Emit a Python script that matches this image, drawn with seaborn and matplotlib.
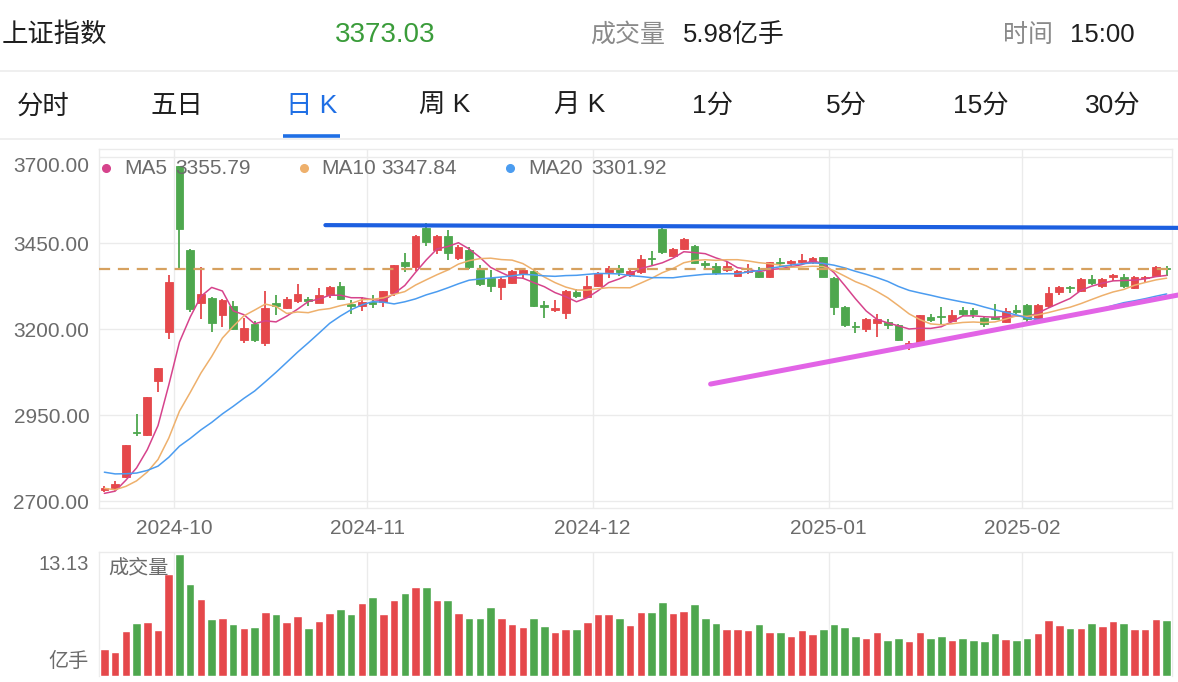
import numpy as np
import pandas as pd
import matplotlib
matplotlib.use("Agg")
import matplotlib.pyplot as plt
import seaborn as sns

# ---------------- data ----------------
dates = [
    "2024-09-20", "2024-09-23", "2024-09-24", "2024-09-25", "2024-09-26", "2024-09-27", "2024-09-30",
    "2024-10-08", "2024-10-09", "2024-10-10", "2024-10-11", "2024-10-14", "2024-10-15", "2024-10-16",
    "2024-10-17", "2024-10-18", "2024-10-21", "2024-10-22", "2024-10-23", "2024-10-24", "2024-10-25",
    "2024-10-28", "2024-10-29", "2024-10-30", "2024-10-31",
    "2024-11-01", "2024-11-04", "2024-11-05", "2024-11-06", "2024-11-07", "2024-11-08", "2024-11-11",
    "2024-11-12", "2024-11-13", "2024-11-14", "2024-11-15", "2024-11-18", "2024-11-19", "2024-11-20",
    "2024-11-21", "2024-11-22", "2024-11-25", "2024-11-26", "2024-11-27", "2024-11-28", "2024-11-29",
    "2024-12-02", "2024-12-03", "2024-12-04", "2024-12-05", "2024-12-06", "2024-12-09", "2024-12-10",
    "2024-12-11", "2024-12-12", "2024-12-13", "2024-12-16", "2024-12-17", "2024-12-18", "2024-12-19",
    "2024-12-20", "2024-12-23", "2024-12-24", "2024-12-25", "2024-12-26", "2024-12-27", "2024-12-30",
    "2024-12-31",
    "2025-01-02", "2025-01-03", "2025-01-06", "2025-01-07", "2025-01-08", "2025-01-09", "2025-01-10",
    "2025-01-13", "2025-01-14", "2025-01-15", "2025-01-16", "2025-01-17", "2025-01-20", "2025-01-21",
    "2025-01-22", "2025-01-23", "2025-01-24", "2025-01-27",
    "2025-02-05", "2025-02-06", "2025-02-07", "2025-02-10", "2025-02-11", "2025-02-12", "2025-02-13",
    "2025-02-14", "2025-02-17", "2025-02-18", "2025-02-19", "2025-02-20", "2025-02-21", "2025-02-24",
]

open_ = [
    2731, 2737, 2770, 2901, 2893, 3049, 3192,
    3674, 3430, 3275, 3289, 3240, 3266, 3167, 3215, 3160, 3275, 3261, 3282, 3287, 3277, 3298, 3325, 3273, 3267,
    3278, 3278, 3305, 3396, 3380, 3495, 3431, 3470, 3405, 3430, 3372, 3347, 3321, 3335, 3360, 3368, 3271, 3256,
    3248, 3307, 3294,
    3325, 3365, 3376, 3356, 3366, 3405, 3490, 3413, 3432, 3440, 3392, 3382, 3371, 3353, 3366, 3366, 3352, 3395,
    3391, 3396, 3396, 3408,
    3347, 3265, 3210, 3200, 3218, 3220, 3211, 3147, 3158, 3236, 3239, 3224, 3254, 3254, 3231, 3235, 3221, 3256,
    3270, 3229, 3268, 3308, 3322, 3310, 3344, 3326, 3352, 3350, 3318, 3348, 3353, 3376,
]
high = [
    2744, 2757, 2864, 2952, 3001, 3088, 3358,
    3674, 3434, 3379, 3293, 3288, 3280, 3231, 3222, 3310, 3298, 3293, 3330, 3292, 3318, 3324, 3336, 3283, 3292,
    3300, 3310, 3387, 3420, 3472, 3507, 3472, 3487, 3443, 3438, 3385, 3371, 3350, 3373, 3373, 3373, 3280, 3283,
    3312, 3315, 3354,
    3367, 3383, 3385, 3372, 3416, 3426, 3494, 3436, 3464, 3444, 3397, 3392, 3395, 3372, 3388, 3380, 3396, 3405,
    3400, 3417, 3410, 3410,
    3351, 3268, 3220, 3232, 3245, 3228, 3215, 3165, 3242, 3245, 3264, 3254, 3263, 3260, 3235, 3274, 3260, 3270,
    3273, 3272, 3322, 3325, 3325, 3347, 3356, 3348, 3360, 3360, 3353, 3355, 3382, 3383,
]
low = [
    2727, 2730, 2767, 2889, 2889, 3017, 3170,
    3374, 3250, 3228, 3190, 3205, 3197, 3160, 3162, 3152, 3240, 3257, 3277, 3266, 3275, 3290, 3283, 3245, 3251,
    3260, 3263, 3296, 3367, 3370, 3440, 3417, 3400, 3400, 3374, 3326, 3307, 3283, 3330, 3345, 3264, 3232, 3250,
    3228, 3290, 3290,
    3323, 3348, 3354, 3350, 3360, 3385, 3417, 3408, 3430, 3388, 3376, 3358, 3366, 3350, 3360, 3348, 3348, 3380,
    3380, 3392, 3390, 3350,
    3240, 3205, 3187, 3191, 3176, 3200, 3166, 3140, 3156, 3220, 3216, 3220, 3238, 3232, 3205, 3225, 3218, 3245,
    3220, 3220, 3262, 3298, 3306, 3307, 3328, 3320, 3340, 3318, 3315, 3337, 3350, 3354,
]
close = [
    2736.81, 2748.92, 2863.13, 2896.31, 3000.95, 3087.53, 3336.50,
    3489.78, 3258.86, 3301.93, 3217.74, 3284.32, 3201.29, 3202.95, 3169.38, 3261.56, 3268.11, 3285.87, 3302.80,
    3280.26, 3299.70, 3322.20, 3286.41, 3266.24, 3279.82,
    3272.01, 3310.21, 3386.99, 3383.81, 3470.66, 3452.30, 3470.07, 3421.97, 3439.28, 3379.84, 3330.73, 3323.85,
    3346.01, 3367.99, 3370.40, 3267.19, 3263.76, 3259.76, 3309.78, 3295.70, 3326.46,
    3363.98, 3378.81, 3364.65, 3368.86, 3404.08, 3402.53, 3422.66, 3432.49, 3461.50, 3391.88, 3386.33, 3361.49,
    3382.21, 3370.03, 3368.07, 3351.26, 3393.53, 3393.35, 3398.08, 3400.14, 3407.33, 3351.76,
    3262.56, 3211.43, 3206.92, 3229.64, 3230.17, 3211.39, 3168.52, 3160.76, 3240.94, 3227.12, 3236.03, 3241.82,
    3244.38, 3242.62, 3213.62, 3230.16, 3252.63, 3250.60,
    3229.49, 3270.66, 3303.67, 3322.17, 3318.06, 3346.39, 3332.48, 3346.72, 3355.83, 3324.49, 3351.54, 3350.78,
    3379.11, 3373.03,
]
volume = [  # 亿手
    2.92, 2.63, 4.81, 5.73, 5.80, 4.96, 11.01,
    13.13, 9.92, 8.32, 6.09, 6.27, 5.65, 5.18, 5.29, 6.93, 6.67, 5.76, 6.49, 5.18, 5.95, 6.75, 7.22, 6.67, 7.84,
    8.46, 6.64, 8.17, 8.94, 9.56, 9.59, 8.13, 8.13, 6.75, 6.27, 6.27, 7.40, 6.27, 5.65, 5.29, 6.27, 5.40, 4.74,
    5.11, 5.11, 5.84,
    6.67, 6.67, 6.20, 5.47, 6.93, 6.93, 7.95, 6.82, 7.00, 7.77, 6.27, 5.73, 5.11, 5.11, 4.92, 5.58, 4.74, 4.74,
    4.27, 5.00, 4.56, 5.03,
    5.65, 5.22, 4.34, 4.08, 4.74, 3.87, 4.08, 3.76, 4.74, 4.08, 4.34, 3.87, 4.08, 3.87, 3.72, 4.63, 4.01, 3.90,
    4.12, 4.67, 6.02, 5.51, 5.14, 5.14, 5.73, 5.36, 5.91, 5.69, 5.03, 5.03, 6.09, 5.98,
]
# closes of the 19 sessions before the first shown day (needed for the moving averages)
prior_close = [2848.77, 2854.37, 2855.52, 2848.74, 2837.43, 2823.11, 2842.21, 2811.04, 2802.98, 2784.28,
               2788.31, 2765.81, 2736.49, 2744.19, 2721.80, 2717.12, 2704.09, 2717.28, 2736.02]

ma_periods = [5, 10, 20]
y_ticks = [2700, 2950, 3200, 3450, 3700]
resistance_x = [20.6, 100.1]
resistance_y = [3502, 3494]
support_x = [56.5, 100.1]
support_y = [3040, 3299]
tabs = ["分时", "五日", "日 K", "周 K", "月 K", "1分", "5分", "15分", "30分"]

# ---------------- derived ----------------
n = len(dates)
idx = np.arange(n)
df = pd.DataFrame({"date": pd.to_datetime(dates), "open": open_, "high": high,
                   "low": low, "close": close, "volume": volume, "i": idx})
full_close = pd.Series(prior_close + close)
for p in ma_periods:
    df[f"MA{p}"] = full_close.rolling(p).mean().values[len(prior_close):]
df["dir"] = np.where(df["close"] >= df["open"], "up", "down")

RED = "#e5484b"
GREEN = "#4ea74e"
col = {"up": RED, "down": GREEN}
ma_cols = {5: "#d6438c", 10: "#eeb06c", 20: "#4b9cf0"}

# month boundaries
month_starts = [i for i in range(1, n) if df["date"][i].month != df["date"][i - 1].month]
month_labels = [df["date"][i].strftime("%Y-%m") for i in month_starts]
month_pos = [i - 0.5 for i in month_starts]

# ---------------- figure ----------------
sns.set_theme(style="white")
plt.rcParams["font.family"] = ["Liberation Sans", "Noto Sans CJK SC", "DejaVu Sans"]

W, H = 1178, 682
fig = plt.figure(figsize=(W / 100, H / 100), dpi=100)
fig.patch.set_facecolor("white")


def fx(x):
    return x / W


def fy(y):
    return 1 - y / H


GRID = "#ebebeb"
TICK = "#6b6b6b"

# header
fig.text(fx(2), fy(35), "上证指数", fontsize=19, color="#1e1e1e", va="center", ha="left")
fig.text(fx(385), fy(35), f"{close[-1]:.2f}", fontsize=20, color="#3a9c3a", va="center", ha="center")
fig.text(fx(590), fy(35), "成交量", fontsize=18, color="#8a8a8a", va="center", ha="left")
fig.text(fx(683), fy(35), f"{volume[-1]:.2f}亿手", fontsize=18.5, color="#1e1e1e", va="center", ha="left")
fig.text(fx(1003), fy(35), "时间", fontsize=18, color="#8a8a8a", va="center", ha="left")
fig.text(fx(1070), fy(35), "15:00", fontsize=18.5, color="#1e1e1e", va="center", ha="left")

# separators and tabs
for yy in (71, 139):
    fig.add_artist(plt.Line2D([0, 1], [fy(yy), fy(yy)], color="#ececec", lw=1.2))
tab_x = [43, 177, 312, 445, 580, 713, 846, 981, 1113]
for t, x in zip(tabs, tab_x):
    c = "#1f6fe5" if t == "日 K" else "#1e1e1e"
    fig.text(fx(x), fy(106), t, fontsize=19, color=c, va="center", ha="center")
fig.add_artist(plt.Line2D([fx(283), fx(340)], [fy(136), fy(136)], color="#1f6fe5", lw=2.6,
                          solid_capstyle="butt"))

# ---------------- price axes ----------------
ax = fig.add_axes([fx(99), fy(508), fx(1172) - fx(99), (508 - 149) / H])
ax.set_facecolor("white")

# wicks and bodies
ax.vlines(df["i"], df["low"], df["high"], colors=df["dir"].map(col), lw=1.3, zorder=2)
body_bottom = np.minimum(df["open"], df["close"])
body_h = np.maximum(np.abs(df["close"] - df["open"]), 2.0)
ax.bar(df["i"], body_h, bottom=body_bottom, width=0.72, color=df["dir"].map(col),
       edgecolor=df["dir"].map(col), linewidth=0.6, zorder=3)

for p in ma_periods:
    sns.lineplot(data=df, x="i", y=f"MA{p}", color=ma_cols[p], lw=1.1, ax=ax, zorder=4)

# last price dashed line
ax.axhline(close[-1], color="#d6a15f", lw=1.6, dashes=(5, 3.5), zorder=5)
# drawn trend lines
ax.plot(resistance_x, resistance_y, color="#1c5fe0", lw=3.0, solid_capstyle="round", zorder=6,
        clip_on=False)
ax.plot(support_x, support_y, color="#e264e6", lw=3.6, solid_capstyle="round", zorder=6,
        clip_on=False)

ax.set_xlim(-0.5, n - 0.5)
ax.set_ylim(2679.7, 3723.3)
ax.set_yticks(y_ticks)
ax.set_yticklabels([f"{v:.2f}" for v in y_ticks])
ax.set_xticks(month_pos)
ax.set_xticklabels(month_labels)
ax.tick_params(axis="both", length=0, labelsize=15, labelcolor=TICK)
ax.tick_params(axis="y", pad=7)
ax.tick_params(axis="x", pad=8)
ax.get_yticklabels()[-1].set_va("top")
ax.grid(True, color=GRID, lw=1.0)
ax.set_axisbelow(True)
for s in ax.spines.values():
    s.set_color(GRID)
    s.set_linewidth(1.0)
ax.set_xlabel("")
ax.set_ylabel("")

# legend
leg_y = 168
items = [(106, 124, 175, 5), (304, 321, 381, 10), (510, 528, 591, 20)]
for dx, tx, vx, p in items:
    fig.add_artist(plt.Line2D([fx(dx)], [fy(leg_y)], marker="o", ms=5.5, color=ma_cols[p], lw=0))
    fig.text(fx(tx), fy(leg_y), f"MA{p}", fontsize=15, color=TICK, va="center", ha="left")
    fig.text(fx(vx), fy(leg_y), f"{df[f'MA{p}'].iloc[-1]:.2f}", fontsize=15, color=TICK,
             va="center", ha="left")

# ---------------- volume axes ----------------
axv = fig.add_axes([fx(99), fy(676), fx(1172) - fx(99), (676 - 552) / H])
axv.set_facecolor("white")
sns.barplot(data=df, x="i", y="volume", hue="dir", palette=col, native_scale=True, width=0.8,
            dodge=False, legend=False, saturation=1, errorbar=None, ax=axv, zorder=3)
axv.set_xlim(-0.5, n - 0.5)
axv.set_ylim(0, max(volume) * 124 / 122)
axv.set_xticks(month_pos)
axv.set_yticks([])
axv.set_xticklabels([])
axv.tick_params(length=0)
axv.grid(True, axis="x", color=GRID, lw=1.0)
axv.set_axisbelow(True)
for k, s in axv.spines.items():
    s.set_color(GRID)
    s.set_linewidth(1.0)
axv.spines["bottom"].set_visible(False)
axv.set_xlabel("")
axv.set_ylabel("")

fig.text(fx(89), fy(564), f"{max(volume):.2f}", fontsize=14.5, color=TICK, va="center", ha="right")
fig.text(fx(89), fy(661), "亿手", fontsize=14.5, color=TICK, va="center", ha="right")
fig.text(fx(108), fy(568), "成交量", fontsize=14.5, color=TICK, va="center", ha="left", zorder=10)

fig.savefig("out.png", dpi=100)
